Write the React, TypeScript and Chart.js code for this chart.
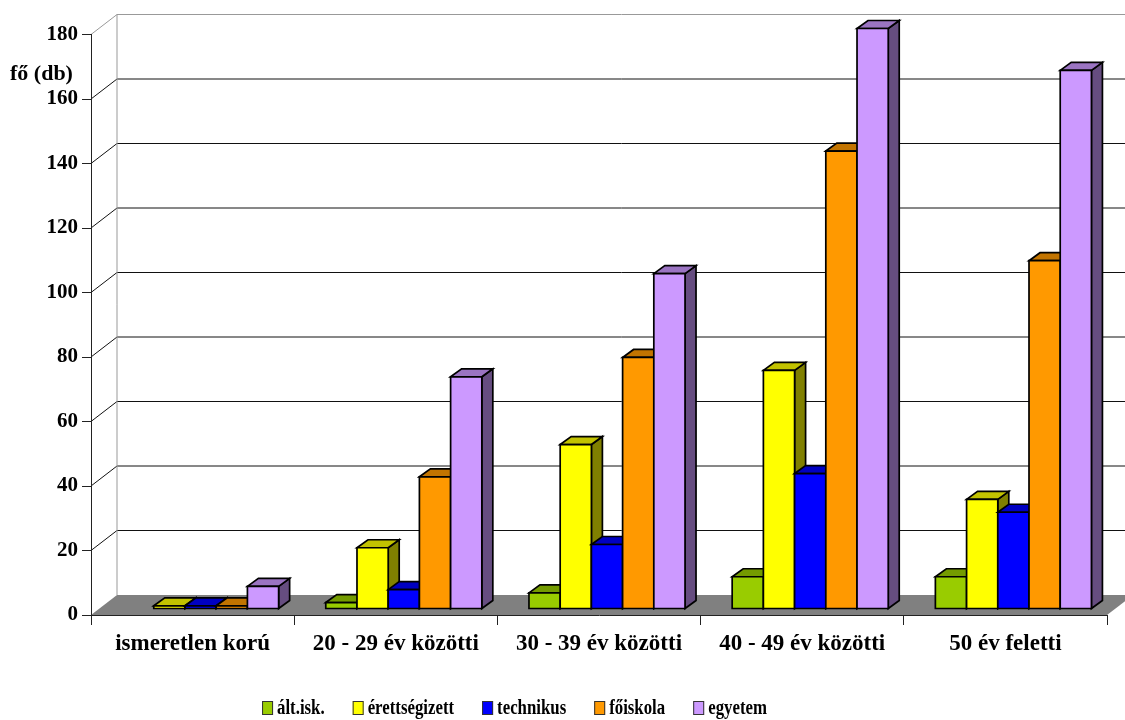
import { useEffect, useRef } from "react";
import { Chart, registerables } from "chart.js";

Chart.register(...registerables);

// Age groups along the category axis
const categories = [
  "ismeretlen korú",
  "20 - 29 év közötti",
  "30 - 39 év közötti",
  "40 - 49 év közötti",
  "50 év feletti",
];

// Head counts per qualification
const seriesNames = ["ált.isk.", "érettségizett", "technikus", "főiskola", "egyetem"];
const altIsk = [0, 2, 5, 10, 10];
const erettsegizett = [1, 19, 51, 74, 34];
const technikus = [1, 6, 20, 42, 30];
const foiskola = [1, 41, 78, 142, 108];
const egyetem = [7, 72, 104, 180, 167];
const seriesColors = ["#99CC00", "#FFFF00", "#0000FF", "#FF9900", "#CC99FF"];

const yTickValues = [0, 20, 40, 60, 80, 100, 120, 140, 160, 180];
const yAxisTitle = "fő (db)";

const FONT = "'Liberation Serif', 'Times New Roman', serif";

// Oblique projection of the plot box and the bars
const WALL_DX = 26;
const WALL_DY = -20;
const BAR_OX = 8;
const BAR_OY = -6;
const BAR_DX = 11;
const BAR_DY = -8;

function shade(hex: string, f: number): string {
  const n = parseInt(hex.slice(1), 16);
  const r = Math.round(((n >> 16) & 255) * f);
  const g = Math.round(((n >> 8) & 255) * f);
  const b = Math.round((n & 255) * f);
  return `rgb(${r},${g},${b})`;
}

function poly(ctx: CanvasRenderingContext2D, pts: number[][], fill: string, stroke?: string) {
  ctx.beginPath();
  ctx.moveTo(pts[0][0], pts[0][1]);
  for (let i = 1; i < pts.length; i++) ctx.lineTo(pts[i][0], pts[i][1]);
  ctx.closePath();
  ctx.fillStyle = fill;
  ctx.fill();
  if (stroke) {
    ctx.strokeStyle = stroke;
    ctx.stroke();
  }
}

const scene3d = {
  id: "scene3d",
  beforeDraw(chart: any) {
    const { ctx, chartArea } = chart;
    const { left, right, bottom } = chartArea;
    const yScale = chart.scales.y;
    ctx.save();
    // floor
    poly(
      ctx,
      [
        [left, bottom],
        [left + WALL_DX, bottom + WALL_DY],
        [right + WALL_DX, bottom + WALL_DY],
        [right, bottom],
      ],
      "#808080"
    );
    // side-wall diagonals and back-wall grid lines
    ctx.lineWidth = 1;
    const maxV = yTickValues[yTickValues.length - 1];
    yTickValues.forEach((v) => {
      if (v === 0) return;
      const y = yScale.getPixelForValue(v);
      ctx.strokeStyle = v === maxV ? "#999999" : "#111111";
      ctx.beginPath();
      ctx.moveTo(left, y);
      ctx.lineTo(left + WALL_DX, y + WALL_DY);
      ctx.lineTo(chart.width + 40, y + WALL_DY);
      ctx.stroke();
    });
    // back-wall left edge
    ctx.strokeStyle = "#999999";
    ctx.beginPath();
    ctx.moveTo(left + WALL_DX, yScale.getPixelForValue(maxV) + WALL_DY);
    ctx.lineTo(left + WALL_DX, bottom + WALL_DY);
    ctx.stroke();
    ctx.restore();
  },
  beforeDatasetsDraw(chart: any) {
    const { ctx } = chart;
    const datasets = chart.data.datasets;
    ctx.save();
    ctx.lineWidth = 1.7;
    ctx.lineJoin = "miter";
    for (let i = 0; i < categories.length; i++) {
      for (let j = 0; j < datasets.length; j++) {
        const value = datasets[j].data[i];
        if (!value) continue;
        const el = chart.getDatasetMeta(j).data[i];
        const { x, y, base, width } = el.getProps(["x", "y", "base", "width"], true);
        const color = seriesColors[j];
        const x0 = x - width / 2 + BAR_OX;
        const x1 = x + width / 2 + BAR_OX;
        const yt = y + BAR_OY;
        const yb = base + BAR_OY;
        // right side
        poly(
          ctx,
          [
            [x1, yt],
            [x1 + BAR_DX, yt + BAR_DY],
            [x1 + BAR_DX, yb + BAR_DY],
            [x1, yb],
          ],
          shade(color, 0.5),
          "#000"
        );
        // top
        poly(
          ctx,
          [
            [x0, yt],
            [x0 + BAR_DX, yt + BAR_DY],
            [x1 + BAR_DX, yt + BAR_DY],
            [x1, yt],
          ],
          shade(color, 0.76),
          "#000"
        );
        // front
        poly(
          ctx,
          [
            [x0, yt],
            [x1, yt],
            [x1, yb],
            [x0, yb],
          ],
          color,
          "#000"
        );
      }
    }
    ctx.restore();
    return false;
  },
  afterDraw(chart: any) {
    const { ctx } = chart;
    ctx.save();
    // axis title
    ctx.font = `bold 22px ${FONT}`;
    ctx.fillStyle = "#000";
    ctx.textAlign = "left";
    ctx.textBaseline = "alphabetic";
    ctx.fillText(yAxisTitle, 10, 80);

    // legend (narrow bold face)
    const squeeze = 0.84;
    ctx.font = `bold 20px ${FONT}`;
    const boxW = 11;
    const boxH = 14;
    const textGap = 4;
    const itemGap = 28;
    const names = chart.data.datasets.map((d: any) => d.label);
    const textW = names.map((n: string) => ctx.measureText(n).width * squeeze);
    const widths = textW.map((w: number) => boxW + textGap + w);
    const total = widths.reduce((a: number, b: number) => a + b, 0) + itemGap * (names.length - 1);
    let lx = 514.5 - total / 2;
    const boxTop = 701;
    ctx.textBaseline = "middle";
    names.forEach((n: string, k: number) => {
      ctx.fillStyle = seriesColors[k];
      ctx.fillRect(lx, boxTop, boxW, boxH);
      ctx.strokeStyle = "#333";
      ctx.lineWidth = 1;
      ctx.strokeRect(lx + 0.5, boxTop + 0.5, boxW - 1, boxH - 1);
      ctx.fillStyle = "#000";
      ctx.save();
      ctx.translate(lx + boxW + textGap, boxTop + boxH / 2 + 1);
      ctx.scale(squeeze, 1);
      ctx.fillText(n, 0, 0);
      ctx.restore();
      lx += widths[k] + itemGap;
    });
    ctx.restore();
  },
};

export default function App() {
  const canvasRef = useRef<HTMLCanvasElement | null>(null);

  useEffect(() => {
    document.body.style.margin = "0";
    const canvas = canvasRef.current;
    if (!canvas) return;
    const seriesValues = [altIsk, erettsegizett, technikus, foiskola, egyetem];
    const chart = new Chart(canvas, {
      type: "bar",
      data: {
        labels: categories,
        datasets: seriesNames.map((name, k) => ({
          label: name,
          data: seriesValues[k],
          backgroundColor: seriesColors[k],
          borderColor: "#000",
          borderWidth: 1,
          categoryPercentage: 0.768,
          barPercentage: 1,
        })),
      },
      options: {
        animation: false,
        responsive: false,
        layout: { padding: { top: 34.5, right: 18, bottom: 0, left: 0 } },
        plugins: {
          legend: { display: false },
          tooltip: { enabled: false },
        },
        scales: {
          x: {
            offset: true,
            grid: {
              display: true,
              offset: true,
              drawOnChartArea: false,
              drawTicks: true,
              tickLength: 10,
              color: "#222",
            },
            border: { display: true, color: "#222", width: 1 },
            ticks: {
              color: "#000",
              padding: 5,
              font: { family: FONT, size: 23, weight: "bold" },
              maxRotation: 0,
              autoSkip: false,
            },
            afterFit: (scale: any) => {
              scale.height = 105;
            },
          },
          y: {
            min: 0,
            max: 180,
            grid: {
              display: true,
              drawOnChartArea: false,
              drawTicks: true,
              tickLength: 9,
              color: "#222",
            },
            border: { display: true, color: "#222", width: 1 },
            ticks: {
              color: "#000",
              padding: 4,
              font: { family: FONT, size: 21, weight: "bold" },
            },
            afterBuildTicks: (scale: any) => {
              scale.ticks = yTickValues.map((v) => ({ value: v }));
            },
            afterFit: (scale: any) => {
              scale.width = 91;
            },
          },
        },
      },
      plugins: [scene3d],
    } as any);
    return () => chart.destroy();
  }, []);

  return (
    <div style={{ width: 1125, height: 720, background: "#fff" }}>
      <canvas ref={canvasRef} width={1125} height={720} style={{ display: "block" }} />
    </div>
  );
}
